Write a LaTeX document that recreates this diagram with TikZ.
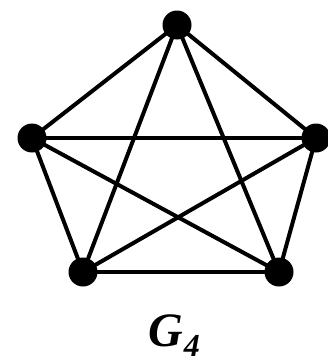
\documentclass[tikz,border=0pt]{standalone}
\usepackage{fontspec}
\setmainfont{Liberation Serif}
\begin{document}
\begin{tikzpicture}[x=1pt,y=-1pt,
  vtx/.style={circle,fill=black,inner sep=0pt,minimum size=29pt},
  edge/.style={line width=4pt}]
\useasboundingbox (0,0) rectangle (328,364);
\node[vtx] (t) at (177,25) {};
\node[vtx] (l) at (32,138) {};
\node[vtx] (r) at (316,138) {};
\node[vtx] (bl) at (83,272) {};
\node[vtx] (br) at (279,272) {};
\foreach \a/\b in {t/l,t/r,t/bl,t/br,l/r,l/bl,l/br,r/bl,r/br,bl/br}
  \draw[edge] (\a.center) -- (\b.center);
\node[anchor=base west,inner sep=0pt] (lab) at (148,346)
  {\fontsize{48}{48}\selectfont\bfseries\itshape G\kern1pt\raisebox{-10pt}{\fontsize{32}{32}\selectfont 4}};
\end{tikzpicture}
\end{document}
